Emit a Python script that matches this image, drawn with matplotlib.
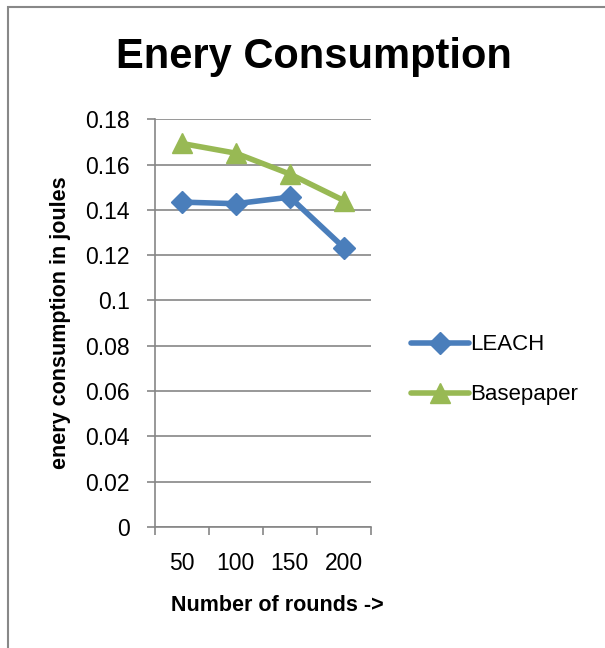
import matplotlib
matplotlib.use('Agg')
import matplotlib.pyplot as plt
from matplotlib.patches import Rectangle

plt.rcParams['font.family'] = ['Liberation Sans', 'DejaVu Sans']

# 数据
rounds = ['50', '100', '150', '200']
leach = [0.1434, 0.1427, 0.1456, 0.1233]
basepaper = [0.1693, 0.1650, 0.1558, 0.1441]

fig = plt.figure(figsize=(6.05, 6.48), dpi=100)
ax = fig.add_axes([0.256, 0.187, 0.357, 0.629])

x = range(len(rounds))
ax.plot(x, leach, color='#4A7EBB', linewidth=4, marker='D', markersize=11,
        label='LEACH', solid_capstyle='round')
ax.plot(x, basepaper, color='#98B954', linewidth=4, marker='^', markersize=14,
        label='Basepaper', solid_capstyle='round')

ax.set_xlim(-0.5, len(rounds) - 0.5)
ax.set_ylim(0, 0.18)
ax.set_yticks([i * 0.02 for i in range(10)])
ax.set_yticklabels(['0', '0.02', '0.04', '0.06', '0.08', '0.1', '0.12', '0.14', '0.16', '0.18'])
ax.set_xticks(list(x))
ax.set_xticklabels(rounds)
ax.set_xticks([i - 0.5 for i in range(len(rounds) + 1)], minor=True)
ax.tick_params(axis='x', which='major', length=0, labelsize=16.5, pad=18)
ax.tick_params(axis='x', which='minor', length=6, color='#868686', width=1.2)
ax.tick_params(axis='y', length=6, color='#868686', width=1.2, labelsize=16.5, pad=12)

ax.grid(axis='y', color='#868686', linewidth=1.2)
ax.set_axisbelow(True)
for s in ['top', 'right']:
    ax.spines[s].set_visible(False)
for s in ['left', 'bottom']:
    ax.spines[s].set_color('#868686')
    ax.spines[s].set_linewidth(1.2)

fig.text(314 / 605, 1 - 57 / 648, 'Enery Consumption', fontsize=30, fontweight='bold',
         ha='center', va='center')
ax.set_xlabel('Number of rounds ->', fontsize=15.5, fontweight='bold')
ax.xaxis.set_label_coords(0.565, -0.194)
ax.xaxis.label.set_va('center')
ax.set_ylabel('enery consumption in joules', fontsize=15.5, fontweight='bold')
ax.yaxis.set_label_coords(-(155 - 61) / 216, 0.5)
ax.yaxis.label.set_va('center')

ax.legend(loc='center left', bbox_to_anchor=(1.145, 0.385), frameon=False, fontsize=16,
          handlelength=2.6, handletextpad=0.05, labelspacing=1.3, borderaxespad=0)

# 外框
fig.patches.append(Rectangle((8 / 605, -0.1), 1.2, 1 - 7 / 648 + 0.1, transform=fig.transFigure,
                             fill=False, edgecolor='#888888', linewidth=1.5))

plt.savefig('out.png', dpi=100)
